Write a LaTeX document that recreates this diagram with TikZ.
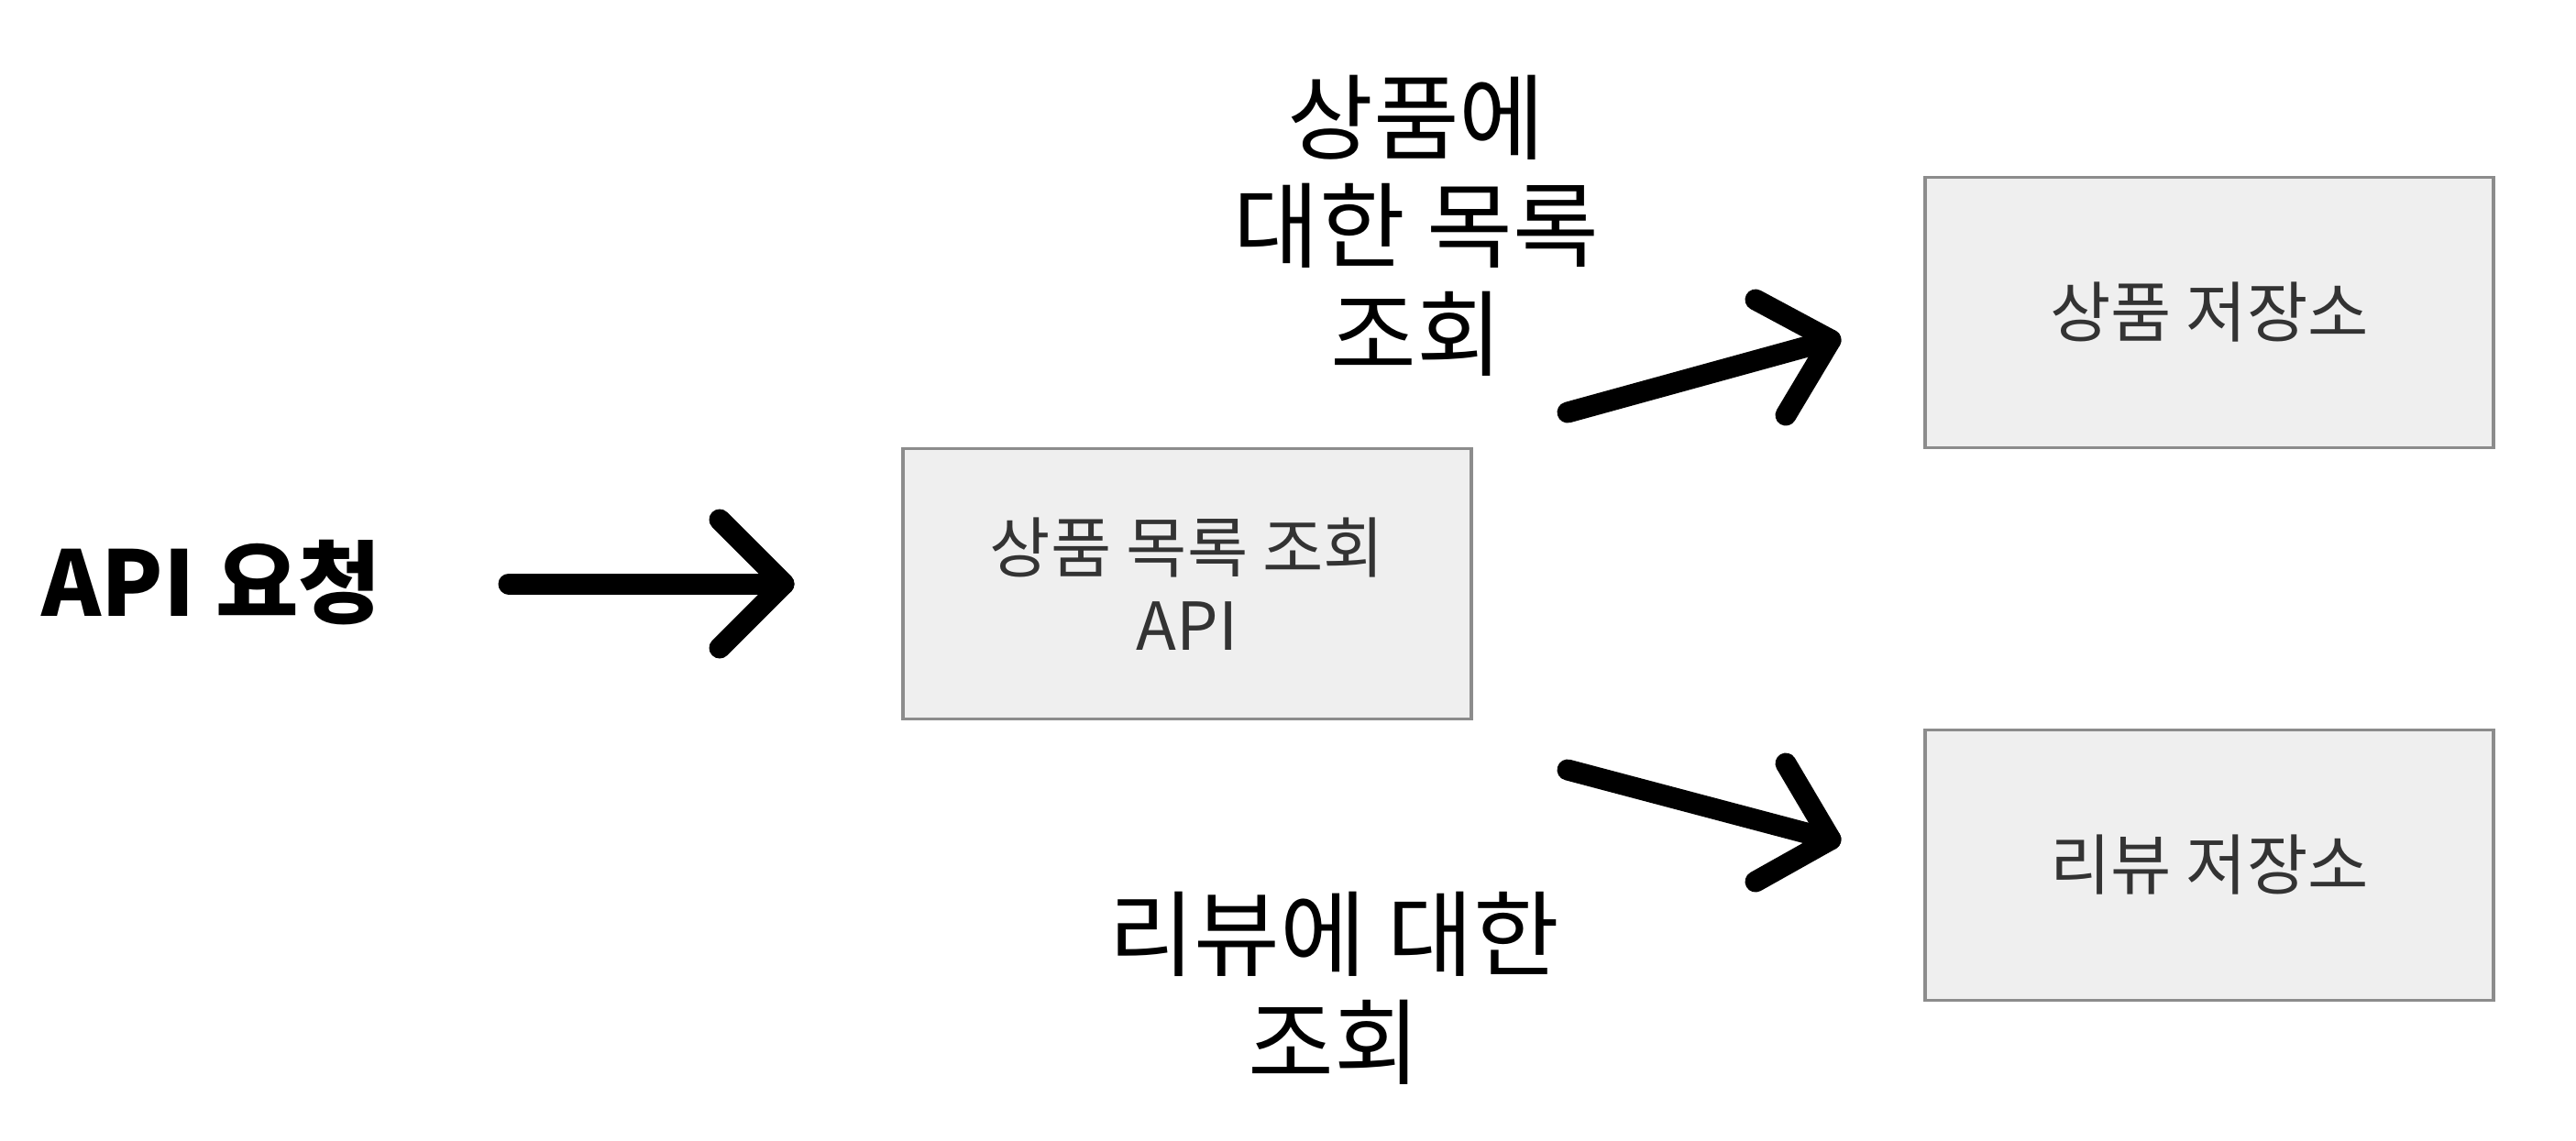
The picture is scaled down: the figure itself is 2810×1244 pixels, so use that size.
\documentclass[tikz,border=0pt]{standalone}
\usepackage{fontspec}
\setmainfont{Noto Sans CJK KR}
\newfontfamily\kr{Noto Sans CJK KR}
\definecolor{boxfill}{HTML}{EFEFEF}
\definecolor{boxline}{HTML}{8C8C8C}
\definecolor{boxtext}{HTML}{333333}
\begin{document}
\begin{tikzpicture}[x=0.01cm,y=-0.01cm,
  blockbox/.style={draw=boxline,line width=1pt,fill=boxfill,
    minimum width=6.2cm,minimum height=2.95cm,inner sep=0pt,
    text=boxtext,font=\kr\fontsize{20.5}{24}\selectfont,align=center},
  biglabel/.style={font=\kr\fontsize{29}{33.5}\selectfont,align=center,inner sep=0pt},
  fatline/.style={line width=0.23cm,line cap=round,line join=round}]
\useasboundingbox[fill=white] (0,0) rectangle (2810,1244);

\node[biglabel,font=\kr\bfseries\fontsize{28}{33.5}\selectfont,anchor=west] (req) at (45,636) {API 요청};

\node[blockbox] (api) at (1295,637) {상품 목록 조회\\API};
\node[blockbox] (prod) at (2410,341) {상품 저장소};
\node[blockbox] (rev) at (2410,944) {리뷰 저장소};

\node[biglabel] (lab1) at (1545,246) {상품에\\대한 목록\\조회};
\node[biglabel] (lab2) at (1455,1078) {리뷰에 대한\\조회};

% arrow 1
\coordinate (a1s) at (555,637);
\coordinate (a1t) at (855,637);
\draw[fatline] (a1s) -- (a1t);
\draw[fatline] (785,567) -- (a1t) -- (785,707);

% arrow 2
\coordinate (a2s) at (1710,450);
\coordinate (a2t) at (1997,371);
\draw[fatline] (a2s) -- (a2t);
\draw[fatline] (1915,327) -- (a2t) -- (1948,453);

% arrow 3
\coordinate (a3s) at (1710,840);
\coordinate (a3t) at (1997,916);
\draw[fatline] (a3s) -- (a3t);
\draw[fatline] (1948,833) -- (a3t) -- (1915,962);
\end{tikzpicture}
\end{document}
